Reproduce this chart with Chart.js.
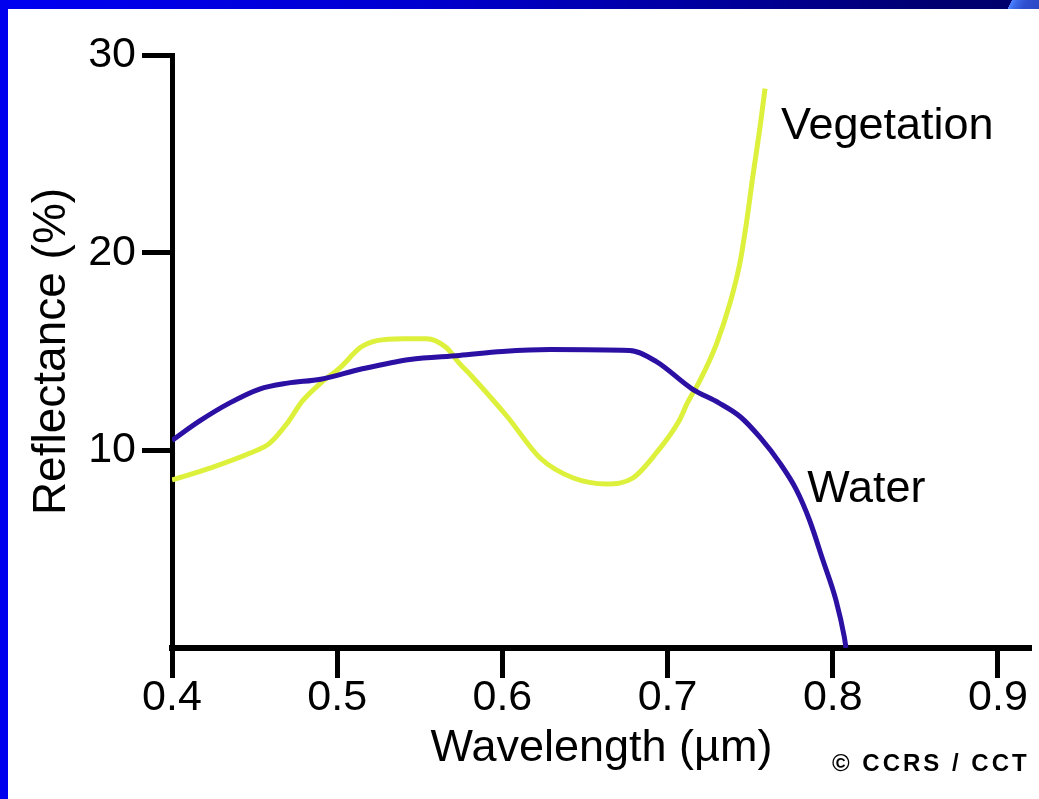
<!DOCTYPE html>
<html>
<head>
<meta charset="utf-8">
<title>Reflectance of water and vegetation</title>
<script src="https://cdn.jsdelivr.net/npm/chart.js@4.4.1/dist/chart.umd.min.js"></script>
<style>
  html, body { margin: 0; padding: 0; background: #fff; overflow: hidden; }
  #wrap { position: relative; width: 1039px; height: 799px; background: #fff; }
  #chart { position: absolute; left: 0; top: 0; }
  .frame-top { position: absolute; left: 0; top: 0; width: 1039px; height: 9px;
    background: linear-gradient(90deg, #0000f2 0%, #0000d0 40%, #00009a 70%, #000070 90%, #00006c 100%); }
  .frame-corner { position: absolute; right: 0; top: 0; width: 36px; height: 9px;
    background: linear-gradient(115deg, rgba(0,0,0,0) 0%, rgba(0,0,0,0) 22%, #4d82ff 22%, #3a66e6 38%, #2f4fcf 60%, #2b47c4 100%); }
  .frame-left { position: absolute; left: 0; top: 0; width: 8px; height: 799px; background: #0000ee; }
</style>
</head>
<body>
<div id="wrap">
  <canvas id="chart" width="1039" height="799"></canvas>
  <div class="frame-top"></div>
  <div class="frame-corner"></div>
  <div class="frame-left"></div>
</div>
<script>
// Wavelength (µm) and reflectance (%) samples for each surface
const waterWavelength = [0.400, 0.417, 0.435, 0.453, 0.470, 0.490, 0.514, 0.544, 0.574, 0.600,
                         0.629, 0.677, 0.693, 0.715, 0.731, 0.744, 0.756, 0.768, 0.778, 0.786,
                         0.794, 0.802, 0.807, 0.808];
const waterReflectance = [10.5, 11.5, 12.4, 13.1, 13.4, 13.6, 14.1, 14.6, 14.8, 15.0,
                          15.1, 15.05, 14.5, 13.1, 12.4, 11.7, 10.65, 9.35, 8.0, 6.45,
                          4.45, 2.4, 0.55, 0.0];

const vegWavelength = [0.400, 0.423, 0.447, 0.459, 0.470, 0.479, 0.490, 0.502, 0.514, 0.524,
                       0.540, 0.554, 0.566, 0.574, 0.582, 0.603, 0.623, 0.643, 0.663, 0.679,
                       0.693, 0.707, 0.712, 0.7194, 0.7297, 0.7376, 0.7436, 0.7479, 0.7515,
                       0.7557, 0.7590];
const vegReflectance = [8.5, 9.1, 9.85, 10.35, 11.4, 12.5, 13.4, 14.2, 15.2, 15.55,
                        15.65, 15.65, 15.2, 14.4, 13.7, 11.7, 9.6, 8.6, 8.3, 8.6,
                        9.85, 11.5, 12.4, 13.5, 15.4, 17.4, 19.4, 21.6, 23.8,
                        26.2, 28.3];

// Axis ticks
const xTickValues = [0.4, 0.5, 0.6, 0.7, 0.8, 0.9];
const yTickValues = [10, 20, 30];

// Series names, anchored next to the curve ends (data coordinates)
const seriesNames = ['Water', 'Vegetation'];
const nameAnchors = [
  { x: 0.7845, y: 8.0 },
  { x: 0.7686, y: 26.4 }
];

const FONT = '"Liberation Sans", Arial, Helvetica, sans-serif';

function toPoints(xs, ys) {
  return xs.map((x, i) => ({ x: x, y: ys[i] }));
}

// Draws the curve names and the credit line
const annotationPlugin = {
  id: 'curveNames',
  afterDatasetsDraw(chart) {
    const ctx = chart.ctx;
    const xs = chart.scales.x, ys = chart.scales.y;
    ctx.save();
    ctx.fillStyle = '#000';
    ctx.font = '45px ' + FONT;
    ctx.textAlign = 'left';
    ctx.textBaseline = 'middle';
    seriesNames.forEach((name, i) => {
      const a = nameAnchors[i];
      ctx.fillText(name, xs.getPixelForValue(a.x), ys.getPixelForValue(a.y));
    });
    ctx.font = 'bold 24px ' + FONT;
    if ('letterSpacing' in ctx) ctx.letterSpacing = '3px';
    ctx.textBaseline = 'middle';
    ctx.fillText('\u00A9 CCRS / CCT', 832, 764);
    ctx.restore();
  }
};

const ctx = document.getElementById('chart').getContext('2d');
new Chart(ctx, {
  type: 'scatter',
  data: {
    datasets: [
      {
        label: seriesNames[0],
        data: toPoints(waterWavelength, waterReflectance),
        showLine: true,
        borderColor: '#2c0fa3',
        borderWidth: 5,
        pointRadius: 0,
        cubicInterpolationMode: 'monotone',
        fill: false
      },
      {
        label: seriesNames[1],
        data: toPoints(vegWavelength, vegReflectance),
        showLine: true,
        borderColor: '#dcf03c',
        borderWidth: 5,
        pointRadius: 0,
        cubicInterpolationMode: 'monotone',
        fill: false
      }
    ]
  },
  options: {
    responsive: false,
    animation: false,
    events: [],
    layout: { padding: { left: 0, top: 55, right: 8, bottom: 0 } },
    plugins: {
      legend: { display: false },
      tooltip: { enabled: false }
    },
    scales: {
      x: {
        type: 'linear',
        min: 0.4,
        max: 0.92,
        afterBuildTicks: s => { s.ticks = xTickValues.map(v => ({ value: v })); },
        afterFit: s => { s.height = 151; },
        ticks: {
          color: '#000',
          font: { family: FONT, size: 43 },
          padding: -6,
          maxRotation: 0,
          autoSkip: false,
          callback: v => Number(v).toFixed(1)
        },
        grid: {
          drawOnChartArea: false,
          drawTicks: true,
          tickLength: 30,
          tickWidth: 5,
          tickColor: '#000'
        },
        border: { display: true, color: '#000', width: 6 },
        title: {
          display: true,
          text: 'Wavelength (\u00B5m)',
          color: '#000',
          font: { family: FONT, size: 45 },
          padding: { top: 0, bottom: 23 }
        }
      },
      y: {
        type: 'linear',
        min: 0,
        max: 30,
        afterBuildTicks: s => { s.ticks = yTickValues.map(v => ({ value: v })); },
        afterFit: s => { s.width = 172; },
        ticks: {
          color: '#000',
          font: { family: FONT, size: 43 },
          padding: 6,
          autoSkip: false,
          callback: v => String(v)
        },
        grid: {
          drawOnChartArea: false,
          drawTicks: true,
          tickLength: 30,
          tickWidth: 5,
          tickColor: '#000'
        },
        border: { display: true, color: '#000', width: 5 },
        title: {
          display: true,
          text: 'Reflectance (%)',
          color: '#000',
          font: { family: FONT, size: 46 },
          padding: { top: 25, bottom: 0 }
        }
      }
    }
  },
  plugins: [annotationPlugin]
});
</script>
</body>
</html>
